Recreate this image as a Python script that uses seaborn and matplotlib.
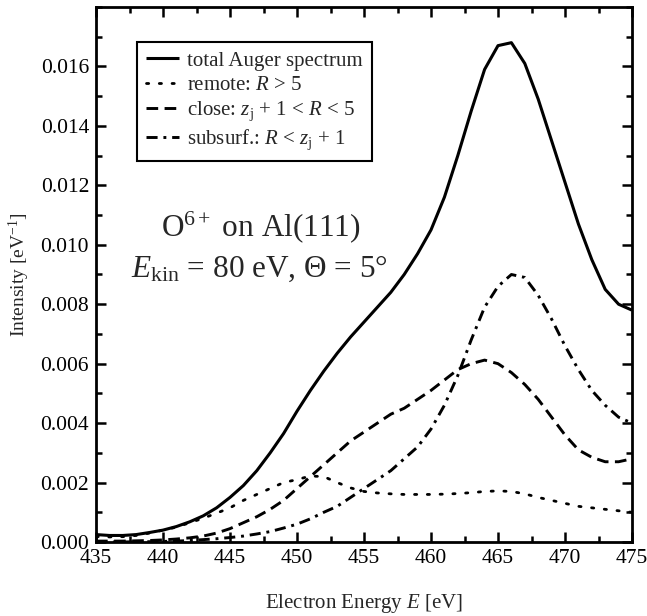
import numpy as np
import pandas as pd
import matplotlib
matplotlib.use("Agg")
import matplotlib.pyplot as plt
import seaborn as sns
from matplotlib.ticker import MultipleLocator

# Electron energy grid [eV]
energy = [435, 436, 437, 438, 439, 440, 441, 442, 443, 444, 445, 446, 447, 448,
          449, 450, 451, 452, 453, 454, 455, 456, 457, 458, 459, 460, 461, 462,
          463, 464, 465, 466, 467, 468, 469, 470, 471, 472, 473, 474, 475]

# Total Auger spectrum
total = [0.00025, 0.00022, 0.00022, 0.00025, 0.00032, 0.00040, 0.00052, 0.00068,
         0.00088, 0.00115, 0.00150, 0.00190, 0.00240, 0.00300, 0.00365, 0.00440,
         0.00510, 0.00575, 0.00635, 0.00690, 0.00740, 0.00790, 0.00840, 0.00900,
         0.00970, 0.01050, 0.01160, 0.01300, 0.01450, 0.01590, 0.01670, 0.01680,
         0.01610, 0.01490, 0.01350, 0.01210, 0.01070, 0.00950, 0.00850, 0.00800,
         0.00780]

# remote: R > 5
remote = [0.00018, 0.00017, 0.00018, 0.00022, 0.00030, 0.00040, 0.00050, 0.00065,
          0.00080, 0.00097, 0.00115, 0.00140, 0.00160, 0.00180, 0.00200, 0.00210,
          0.00222, 0.00220, 0.00200, 0.00182, 0.00170, 0.00165, 0.00162, 0.00160,
          0.00160, 0.00160, 0.00161, 0.00163, 0.00166, 0.00170, 0.00172, 0.00170,
          0.00162, 0.00150, 0.00140, 0.00130, 0.00120, 0.00115, 0.00110, 0.00105,
          0.00100]

# close: z_j + 1 < R < 5
close = [0.00003, 0.00003, 0.00003, 0.00004, 0.00005, 0.00007, 0.00010, 0.00014,
         0.00020, 0.00030, 0.00045, 0.00065, 0.00085, 0.00110, 0.00140, 0.00180,
         0.00220, 0.00260, 0.00300, 0.00340, 0.00370, 0.00400, 0.00430, 0.00450,
         0.00480, 0.00510, 0.00545, 0.00580, 0.00600, 0.00612, 0.00600, 0.00570,
         0.00530, 0.00480, 0.00420, 0.00360, 0.00310, 0.00285, 0.00270, 0.00270,
         0.00280]

# subsurf.: R < z_j + 1
subsurf = [0.00000, 0.00000, 0.00000, 0.00001, 0.00001, 0.00002, 0.00003, 0.00005,
           0.00008, 0.00011, 0.00015, 0.00020, 0.00027, 0.00035, 0.00047, 0.00060,
           0.00078, 0.00100, 0.00120, 0.00150, 0.00180, 0.00210, 0.00240, 0.00280,
           0.00320, 0.00380, 0.00460, 0.00560, 0.00680, 0.00790, 0.00860, 0.00900,
           0.00890, 0.00830, 0.00750, 0.00660, 0.00580, 0.00510, 0.00460, 0.00420,
           0.00400]

labels = ["total Auger spectrum",
          r"remote: $R$ > 5",
          r"close: $z_\mathrm{j}$ + 1 < $R$ < 5",
          r"subsurf.: $R$ < $z_\mathrm{j}$ + 1"]

y_ticks = [0, 0.002, 0.004, 0.006, 0.008, 0.010, 0.012, 0.014, 0.016]
y_ticklabels = ["0.000", "0.002", "0.004", "0.006", "0.008", "0.010",
                "0.012", "0.014", "0.016"]

sns.set_theme(style="ticks")
plt.rcParams["font.family"] = ["Liberation Serif", "DejaVu Serif"]
plt.rcParams["mathtext.fontset"] = "custom"
plt.rcParams["mathtext.rm"] = "Liberation Serif"
plt.rcParams["mathtext.it"] = "Liberation Serif:italic"
plt.rcParams["mathtext.bf"] = "Liberation Serif:bold"

fig = plt.figure(figsize=(6.47, 6.16), dpi=100)
ax = fig.add_axes([96 / 647, 74 / 616, 536 / 647, 535 / 616])

styles = [
    dict(linestyle="-", lw=2.2, cap="butt"),
    dict(linestyle=(0, (0.8, 3.8)), lw=2.0, cap="round"),
    dict(linestyle=(0, (4.0, 2.2)), lw=2.1, cap="butt"),
    dict(linestyle=(0, (3.8, 2.0, 1.0, 2.0)), lw=2.1, cap="butt"),
]
for series, lab, st in zip([total, remote, close, subsurf], labels, styles):
    sns.lineplot(x=energy, y=series, ax=ax, color="black", label=lab,
                 linestyle=st["linestyle"], lw=st["lw"],
                 solid_capstyle="butt", dash_capstyle=st["cap"])

ax.set_xlim(435, 475)
ax.set_ylim(0, 0.018)
ax.xaxis.set_major_locator(MultipleLocator(5))
ax.xaxis.set_minor_locator(MultipleLocator(2.5))
ax.yaxis.set_minor_locator(MultipleLocator(0.001))
ax.set_yticks(y_ticks)
ax.set_yticklabels(y_ticklabels)

ax.tick_params(which="both", direction="in", top=True, right=True,
               width=1.8, colors="black", labelsize=15.5)
ax.tick_params(which="major", length=7.5, pad=5)
ax.tick_params(which="minor", length=4)
for sp in ax.spines.values():
    sp.set_linewidth(2.0)
    sp.set_color("black")

ax.set_xlabel(r"Electron Energy $E$ [eV]", fontsize=15, labelpad=17)
ax.set_ylabel(r"Intensity [eV$^{-1}$]", fontsize=14, labelpad=6)

leg = ax.legend(loc="upper left", bbox_to_anchor=(0.0765, 0.935),
                borderaxespad=0, fontsize=15, handlelength=1.55,
                handletextpad=0.4, labelspacing=0.22, borderpad=0.45,
                fancybox=False, frameon=True)
leg.get_frame().set_edgecolor("black")
leg.get_frame().set_linewidth(1.5)
leg.get_frame().set_facecolor("white")
leg.get_frame().set_alpha(1)

ax.text(0.307, 0.572, r"O$^{6+}$ on Al(111)", transform=ax.transAxes,
        ha="center", va="baseline", fontsize=22.5)
ax.text(0.305, 0.496, r"$E_\mathrm{kin}$ = 80 eV, $\Theta$ = 5°",
        transform=ax.transAxes, ha="center", va="baseline", fontsize=22.5)

fig.savefig("out.png", dpi=100, facecolor="white")
